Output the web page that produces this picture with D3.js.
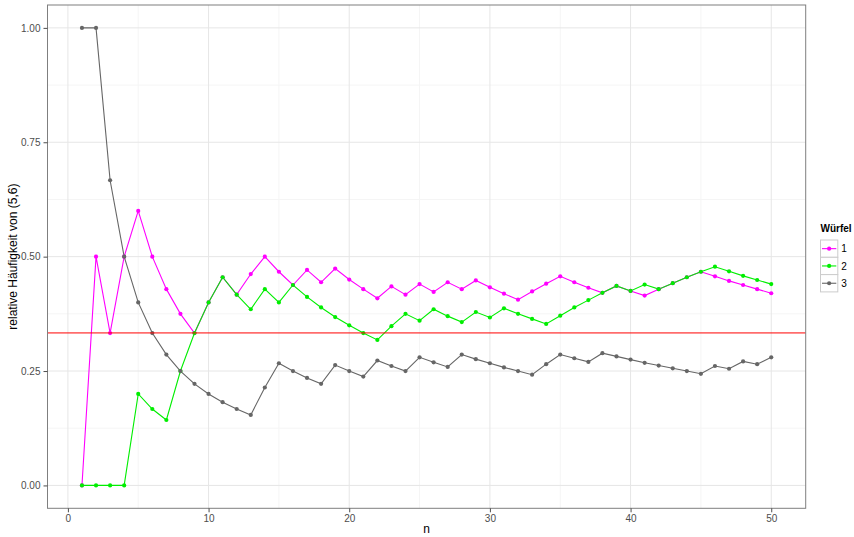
<!DOCTYPE html>
<html>
<head>
<meta charset="utf-8">
<script src="https://cdn.jsdelivr.net/npm/d3@7"></script>
<style>
  html, body { margin: 0; padding: 0; background: #fff; }
  svg { display: block; font-family: "Liberation Sans", Arial, Helvetica, sans-serif; }
</style>
</head>
<body>
<svg id="chart" width="854" height="537"></svg>
<script>
// ---- data ----
const nValues = [1,2,3,4,5,6,7,8,9,10,11,12,13,14,15,16,17,18,19,20,21,22,23,24,25,26,27,28,29,30,31,32,33,34,35,36,37,38,39,40,41,42,43,44,45,46,47,48,49,50];
const seriesNames = ["1", "2", "3"];
const wuerfel1 = [0,0.5,0.333,0.5,0.6,0.5,0.429,0.375,0.333,0.4,0.455,0.417,0.462,0.5,0.467,0.438,0.471,0.444,0.474,0.45,0.429,0.409,0.435,0.417,0.44,0.423,0.444,0.429,0.448,0.433,0.419,0.406,0.424,0.441,0.457,0.444,0.432,0.421,0.436,0.425,0.415,0.429,0.442,0.455,0.467,0.457,0.447,0.438,0.429,0.42];
const wuerfel2 = [0,0,0,0,0.2,0.167,0.143,0.25,0.333,0.4,0.455,0.417,0.385,0.429,0.4,0.438,0.412,0.389,0.368,0.35,0.333,0.318,0.348,0.375,0.36,0.385,0.37,0.357,0.379,0.367,0.387,0.375,0.364,0.353,0.371,0.389,0.405,0.421,0.436,0.425,0.439,0.429,0.442,0.455,0.467,0.478,0.468,0.458,0.449,0.44];
const wuerfel3 = [1,1,0.667,0.5,0.4,0.333,0.286,0.25,0.222,0.2,0.182,0.167,0.154,0.214,0.267,0.25,0.235,0.222,0.263,0.25,0.238,0.273,0.261,0.25,0.28,0.269,0.259,0.286,0.276,0.267,0.258,0.25,0.242,0.265,0.286,0.278,0.27,0.289,0.282,0.275,0.268,0.262,0.256,0.25,0.244,0.261,0.255,0.271,0.265,0.28];
const referenceLine = 0.3333;
const xTicks = [0, 10, 20, 30, 40, 50];
const yTicks = [0, 0.25, 0.5, 0.75, 1.0];
const xMinor = [5, 15, 25, 35, 45];
const yMinor = [0.125, 0.375, 0.625, 0.875];

const colors = { "1": "#ff00ff", "2": "#00ee00", "3": "#666666" };
const seriesValues = { "1": wuerfel1, "2": wuerfel2, "3": wuerfel3 };

// ---- layout ----
const svg = d3.select("#chart");
const panel = { left: 47.5, right: 805.7, top: 5, bottom: 508.3 };

const x = d3.scaleLinear().domain([-1.45, 52.45]).range([panel.left, panel.right]);
const y = d3.scaleLinear().domain([-0.05, 1.05]).range([panel.bottom, panel.top]);

// panel background
svg.append("rect")
  .attr("x", panel.left).attr("y", panel.top)
  .attr("width", panel.right - panel.left).attr("height", panel.bottom - panel.top)
  .attr("fill", "#fff");

// minor grid
const grid = svg.append("g");
grid.selectAll(".xminor").data(xMinor).join("line")
  .attr("x1", d => x(d)).attr("x2", d => x(d))
  .attr("y1", panel.top).attr("y2", panel.bottom)
  .attr("stroke", "#f5f5f5").attr("stroke-width", 1);
grid.selectAll(".yminor").data(yMinor).join("line")
  .attr("y1", d => y(d)).attr("y2", d => y(d))
  .attr("x1", panel.left).attr("x2", panel.right)
  .attr("stroke", "#f5f5f5").attr("stroke-width", 1);
// major grid
grid.selectAll(".xmajor").data(xTicks).join("line")
  .attr("x1", d => x(d)).attr("x2", d => x(d))
  .attr("y1", panel.top).attr("y2", panel.bottom)
  .attr("stroke", "#e6e6e6").attr("stroke-width", 1);
grid.selectAll(".ymajor").data(yTicks).join("line")
  .attr("y1", d => y(d)).attr("y2", d => y(d))
  .attr("x1", panel.left).attr("x2", panel.right)
  .attr("stroke", "#e6e6e6").attr("stroke-width", 1);

// lines
const line = d3.line().x((d, i) => x(nValues[i])).y(d => y(d));
const linesG = svg.append("g");
seriesNames.forEach(s => {
  linesG.append("path")
    .datum(seriesValues[s])
    .attr("d", line)
    .attr("fill", "none")
    .attr("stroke", colors[s])
    .attr("stroke-width", 1.1);
});
// points
const ptsG = svg.append("g");
seriesNames.forEach(s => {
  ptsG.selectAll(null).data(seriesValues[s]).join("circle")
    .attr("cx", (d, i) => x(nValues[i]))
    .attr("cy", d => y(d))
    .attr("r", 2.1)
    .attr("fill", colors[s]);
});

// reference line
svg.append("line")
  .attr("x1", panel.left).attr("x2", panel.right)
  .attr("y1", y(referenceLine)).attr("y2", y(referenceLine))
  .attr("stroke", "#ff0000").attr("stroke-width", 1);

// panel border
svg.append("rect")
  .attr("x", panel.left).attr("y", panel.top)
  .attr("width", panel.right - panel.left).attr("height", panel.bottom - panel.top)
  .attr("fill", "none").attr("stroke", "#7f7f7f").attr("stroke-width", 1);

// axes
const xAxis = svg.append("g")
  .attr("transform", `translate(0,${panel.bottom})`)
  .call(d3.axisBottom(x).tickValues(xTicks).tickFormat(d3.format("d")).tickSize(4).tickPadding(3));
const yAxis = svg.append("g")
  .attr("transform", `translate(${panel.left},0)`)
  .call(d3.axisLeft(y).tickValues(yTicks).tickFormat(d3.format(".2f")).tickSize(4).tickPadding(3));
[xAxis, yAxis].forEach(a => {
  a.select(".domain").remove();
  a.selectAll(".tick line").attr("stroke", "#4d4d4d");
  a.selectAll(".tick text").attr("fill", "#4d4d4d").attr("font-size", "10px")
    .attr("font-family", "'Liberation Sans', Arial, sans-serif");
});

// axis titles
svg.append("text")
  .attr("x", (panel.left + panel.right) / 2).attr("y", 533)
  .attr("text-anchor", "middle").attr("font-size", "12px").attr("fill", "#000")
  .text("n");
svg.append("text")
  .attr("transform", `translate(17,${(panel.top + panel.bottom) / 2}) rotate(-90)`)
  .attr("text-anchor", "middle").attr("font-size", "12px").attr("fill", "#000")
  .text("relative Häufigkeit von (5,6)");

// legend
const legend = svg.append("g").attr("transform", "translate(820.5,0)");
legend.append("text")
  .attr("x", 0).attr("y", 232)
  .attr("font-size", "10px").attr("font-weight", "bold").attr("fill", "#000")
  .text("Würfel");
const keySize = 17.3;
const keyTop = 240;
seriesNames.forEach((s, i) => {
  const gy = keyTop + i * keySize;
  legend.append("rect")
    .attr("x", 0).attr("y", gy).attr("width", keySize).attr("height", keySize)
    .attr("fill", "#fff").attr("stroke", "#cccccc").attr("stroke-width", 1);
  legend.append("line")
    .attr("x1", 1.5).attr("x2", keySize - 1.5)
    .attr("y1", gy + keySize / 2).attr("y2", gy + keySize / 2)
    .attr("stroke", colors[s]).attr("stroke-width", 1.1);
  legend.append("circle")
    .attr("cx", keySize / 2).attr("cy", gy + keySize / 2).attr("r", 2.1)
    .attr("fill", colors[s]);
  legend.append("text")
    .attr("x", keySize + 3.5).attr("y", gy + keySize / 2 + 3.6)
    .attr("font-size", "10px").attr("fill", "#000")
    .text(s);
});
</script>
</body>
</html>
